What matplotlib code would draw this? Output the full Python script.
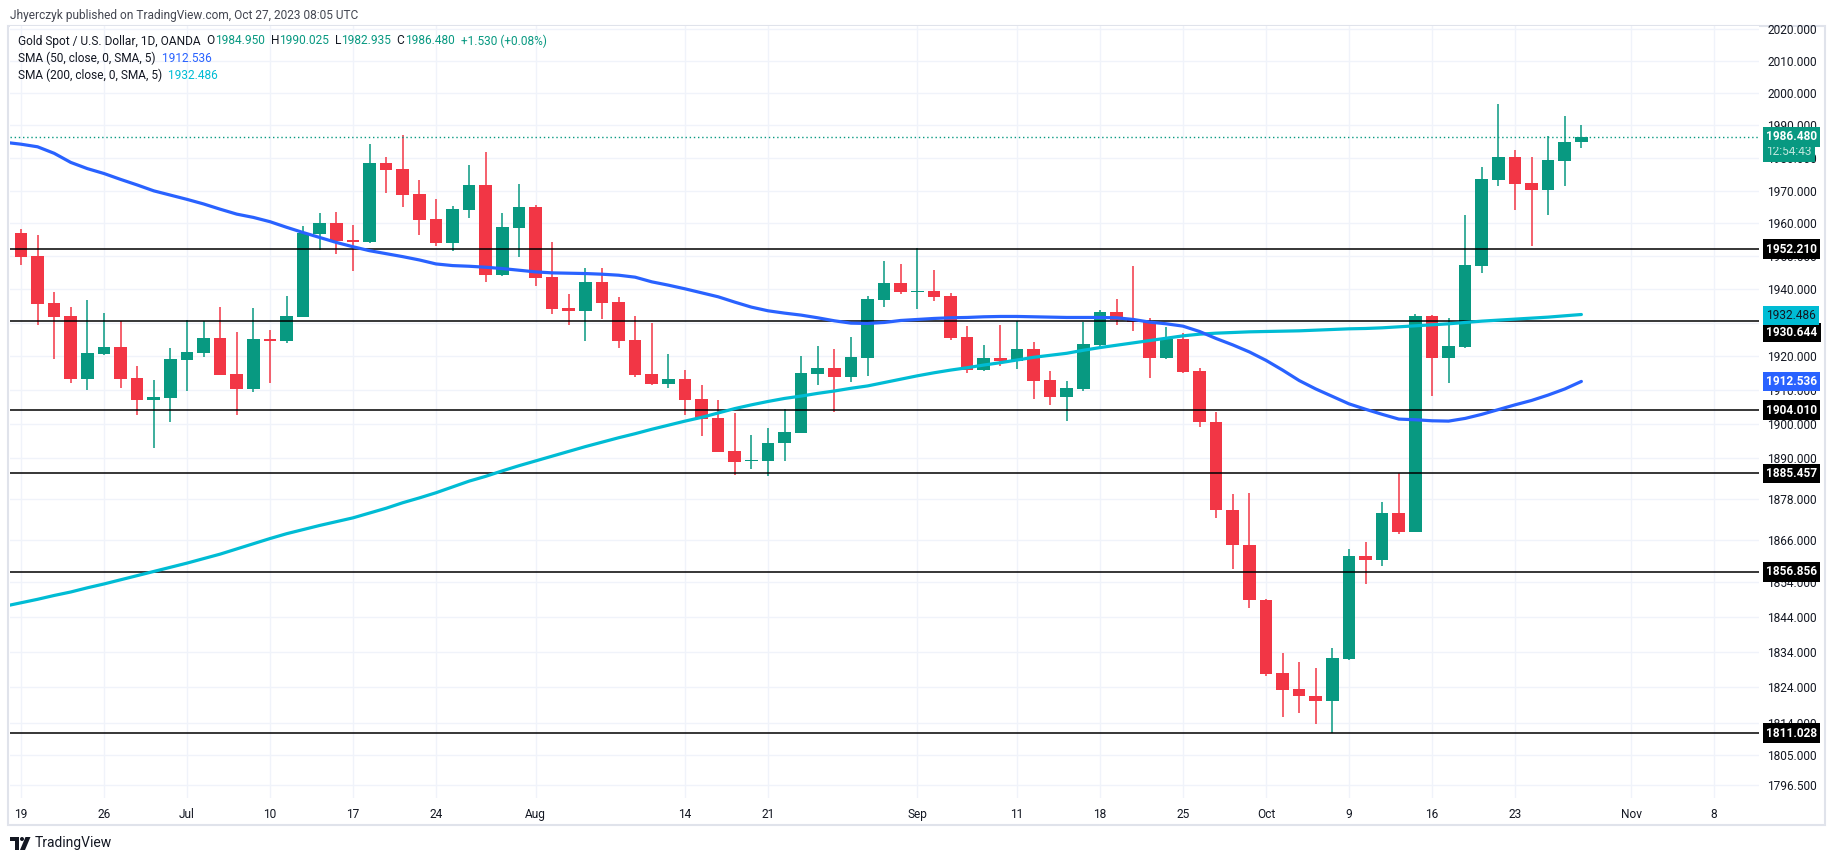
# gold_daily.py
# XAU/USD daily candles with SMA 50 / SMA 200 and support lines, TradingView style.

import matplotlib
matplotlib.use("Agg")
import matplotlib.pyplot as plt
import matplotlib.transforms as mtransforms
from matplotlib.patches import Rectangle, Polygon, Circle
from matplotlib.ticker import FixedLocator, NullLocator
import pandas as pd

plt.rcParams["font.family"] = ["Roboto", "DejaVu Sans"]

W, H = 1835, 860

# daily bars, Jun 19 .. Oct 27 2023
opens = [1957.0, 1950.1, 1935.9, 1932.0, 1913.3, 1920.7, 1922.7, 1913.5, 1907.1, 1907.7,
         1918.9, 1921.0, 1925.4, 1914.7, 1910.3, 1925.1, 1924.6, 1931.8, 1956.8, 1960.1,
         1954.9, 1954.3, 1978.3, 1976.6, 1968.9, 1961.4, 1954.1, 1964.1, 1971.7, 1944.4,
         1958.7, 1965.0, 1943.7, 1934.5, 1933.6, 1942.2, 1936.2, 1924.8, 1914.7, 1911.7,
         1913.4, 1907.3, 1901.7, 1892.0, 1889.0, 1889.2, 1894.4, 1897.4, 1914.7, 1916.5,
         1913.9, 1919.5, 1936.9, 1941.9, 1939.3, 1939.6, 1938.0, 1925.7, 1915.9, 1919.4,
         1918.7, 1922.2, 1913.0, 1908.0, 1910.3, 1923.3, 1933.2, 1931.2, 1930.3, 1919.5,
         1925.1, 1915.6, 1900.4, 1874.8, 1864.5, 1848.7, 1828.1, 1823.4, 1821.6, 1820.1,
         1831.9, 1861.5, 1860.2, 1873.9, 1868.5, 1932.0, 1919.4, 1922.8, 1947.2, 1973.3,
         1980.3, 1972.2, 1970.2, 1978.9, 1984.95]
highs = [1958.3, 1956.4, 1939.2, 1934.7, 1936.8, 1932.9, 1930.5, 1917.1, 1912.9, 1922.4,
         1930.8, 1930.5, 1934.7, 1927.2, 1934.4, 1927.8, 1938.0, 1959.2, 1963.1, 1963.4,
         1959.5, 1984.2, 1980.4, 1987.0, 1973.2, 1967.4, 1965.3, 1977.7, 1981.8, 1963.1,
         1971.9, 1965.6, 1954.3, 1938.7, 1946.6, 1946.4, 1937.6, 1931.9, 1929.9, 1920.6,
         1915.9, 1911.5, 1907.0, 1903.1, 1896.7, 1898.7, 1904.3, 1920.0, 1923.0, 1922.2,
         1925.7, 1937.9, 1948.6, 1947.7, 1952.4, 1945.9, 1938.8, 1929.0, 1923.3, 1929.3,
         1930.5, 1924.3, 1915.6, 1912.6, 1930.2, 1933.8, 1937.1, 1947.1, 1931.4, 1928.7,
         1926.9, 1916.6, 1903.5, 1879.4, 1879.8, 1849.0, 1833.8, 1831.0, 1829.5, 1835.2,
         1863.5, 1865.6, 1877.2, 1885.5, 1932.5, 1932.3, 1931.4, 1962.4, 1977.2, 1996.6,
         1982.4, 1980.3, 1986.7, 1992.9, 1990.025]
lows = [1947.4, 1929.3, 1919.2, 1912.0, 1909.9, 1920.3, 1910.6, 1902.6, 1892.9, 1900.6,
        1909.7, 1919.7, 1914.3, 1902.6, 1909.4, 1912.2, 1923.9, 1931.6, 1951.9, 1950.8,
        1945.6, 1954.0, 1969.3, 1965.0, 1956.6, 1953.2, 1951.7, 1961.7, 1942.3, 1944.2,
        1949.9, 1941.1, 1932.7, 1929.4, 1924.6, 1931.1, 1922.5, 1913.9, 1911.5, 1910.6,
        1902.5, 1896.4, 1891.6, 1885.0, 1886.7, 1884.8, 1889.2, 1897.3, 1911.5, 1903.6,
        1912.5, 1914.2, 1934.8, 1938.7, 1934.2, 1936.6, 1925.0, 1915.0, 1915.7, 1917.1,
        1916.2, 1907.4, 1905.5, 1900.8, 1909.6, 1922.7, 1929.3, 1927.5, 1913.6, 1919.3,
        1915.0, 1899.1, 1872.5, 1857.7, 1846.6, 1827.0, 1815.6, 1816.8, 1813.5, 1811.0,
        1831.8, 1853.3, 1858.7, 1867.8, 1868.3, 1908.1, 1912.2, 1922.6, 1944.9, 1971.4,
        1964.0, 1953.1, 1962.5, 1971.4, 1982.935]
closes = [1949.9, 1935.7, 1931.7, 1913.3, 1920.9, 1922.7, 1913.3, 1907.1, 1907.9, 1919.2,
          1921.2, 1925.4, 1914.5, 1910.3, 1925.1, 1924.6, 1932.0, 1957.1, 1960.1, 1954.6,
          1954.3, 1978.3, 1976.3, 1968.7, 1961.1, 1954.1, 1964.3, 1971.7, 1944.4, 1958.9,
          1965.0, 1943.5, 1934.2, 1933.6, 1942.2, 1935.9, 1924.6, 1914.4, 1911.7, 1913.4,
          1907.0, 1901.4, 1891.7, 1888.8, 1889.4, 1894.5, 1897.6, 1915.0, 1916.5, 1913.9,
          1919.7, 1937.1, 1941.9, 1939.3, 1939.6, 1937.8, 1925.4, 1915.9, 1919.4, 1918.7,
          1922.2, 1912.8, 1908.0, 1910.5, 1923.6, 1933.2, 1930.8, 1930.3, 1919.5, 1925.1,
          1915.4, 1900.4, 1874.8, 1864.5, 1848.7, 1827.8, 1823.1, 1821.4, 1820.1, 1832.3,
          1861.5, 1860.2, 1873.9, 1868.5, 1932.0, 1919.4, 1923.1, 1947.3, 1973.5, 1980.3,
          1972.1, 1970.2, 1979.3, 1984.95, 1986.48]

# moving averages, starting one bar earlier (Jun 16) so the lines reach the left edge
sma50 = [1984.8,
         1984.2, 1983.4, 1981.4, 1978.6, 1976.7, 1975.2, 1973.4, 1971.7, 1969.9, 1968.6,
         1967.3, 1965.9, 1964.3, 1962.8, 1961.8, 1960.5, 1958.8, 1957.2, 1955.7, 1954.2,
         1952.9, 1951.7, 1950.8, 1949.9, 1948.9, 1947.7, 1947.2, 1947.0, 1946.7, 1946.3,
         1945.8, 1945.3, 1945.0, 1944.9, 1944.8, 1944.6, 1944.3, 1943.7, 1942.3, 1941.3,
         1940.2, 1939.0, 1937.8, 1936.2, 1934.7, 1933.6, 1932.9, 1932.3, 1931.5, 1930.6,
         1929.9, 1929.8, 1930.1, 1930.7, 1931.0, 1931.3, 1931.5, 1931.6, 1931.8, 1931.9,
         1931.9, 1931.8, 1931.7, 1931.6, 1931.6, 1931.6, 1931.5, 1931.0, 1930.2, 1929.7,
         1929.0, 1927.4, 1925.3, 1923.4, 1921.3, 1918.8, 1915.9, 1912.8, 1910.3, 1908.1,
         1905.9, 1904.3, 1902.8, 1901.4, 1901.2, 1900.9, 1900.8, 1901.6, 1902.8, 1904.2,
         1905.6, 1906.9, 1908.5, 1910.3, 1912.536]
sma200 = [1847.0,
          1848.0, 1849.0, 1850.1, 1851.1, 1852.3, 1853.4, 1854.6, 1855.8, 1857.0, 1858.2,
          1859.4, 1860.7, 1862.0, 1863.5, 1865.0, 1866.5, 1867.9, 1869.1, 1870.3, 1871.4,
          1872.5, 1873.9, 1875.3, 1876.9, 1878.3, 1879.8, 1881.5, 1883.2, 1884.6, 1886.2,
          1887.7, 1889.1, 1890.5, 1891.9, 1893.3, 1894.6, 1895.9, 1897.1, 1898.4, 1899.6,
          1900.8, 1901.9, 1903.2, 1904.5, 1905.6, 1906.6, 1907.5, 1908.2, 1909.0, 1909.7,
          1910.5, 1911.2, 1912.2, 1913.2, 1914.2, 1915.1, 1915.9, 1916.6, 1917.4, 1918.1,
          1918.9, 1919.7, 1920.3, 1920.9, 1921.8, 1922.6, 1923.3, 1924.0, 1924.7, 1925.4,
          1926.1, 1926.6, 1926.9, 1927.1, 1927.3, 1927.4, 1927.5, 1927.6, 1927.8, 1928.0,
          1928.2, 1928.3, 1928.5, 1928.8, 1929.1, 1929.4, 1929.7, 1930.1, 1930.5, 1930.8,
          1931.1, 1931.4, 1931.7, 1932.1, 1932.486]

levels = [1952.210, 1930.644, 1904.010, 1885.457, 1856.856, 1811.028]

price_ticks = [2020, 2010, 2000, 1990, 1980, 1970, 1960, 1950, 1940, 1930, 1920, 1910,
               1900, 1890, 1878, 1866, 1854, 1844, 1834, 1824, 1814, 1805, 1796.5]

tick_days = ["2023-06-19", "2023-06-26", "2023-07-03", "2023-07-10", "2023-07-17",
             "2023-07-24", "2023-08-01", "2023-08-14", "2023-08-21", "2023-09-01",
             "2023-09-11", "2023-09-18", "2023-09-25", "2023-10-02", "2023-10-09",
             "2023-10-16", "2023-10-23", "2023-11-01", "2023-11-08"]
tick_labels = ["19", "26", "Jul", "10", "17", "24", "Aug", "14", "21", "Sep",
               "11", "18", "25", "Oct", "9", "16", "23", "Nov", "8"]

GREEN = "#089981"
RED = "#f23645"
BLUE = "#2962ff"
CYAN = "#00bcd4"
TEXT = "#131722"
GRID = "#f0f3fa"


def draw_pieces(fig, x_px, y_px, pieces, size=8.6):
    """Write coloured text pieces one after another on a line."""
    renderer = fig.canvas.get_renderer()
    x = x_px
    for text, color in pieces:
        t = fig.text(x / W, 1 - y_px / H, text, color=color, fontsize=size,
                     ha="left", va="center")
        x += t.get_window_extent(renderer=renderer).width


def main():
    fig = plt.figure(figsize=(W / 100, H / 100), dpi=100)
    fig.patch.set_facecolor("white")

    # background layer in pixel coordinates: frame and logo
    deco = fig.add_axes([0, 0, 1, 1], zorder=-1)
    deco.set_xlim(0, W)
    deco.set_ylim(H, 0)
    deco.axis("off")
    deco.add_patch(Rectangle((8, 26), 1817, 799, fill=False, ec="#e0e3eb", lw=1.5))

    # plot area
    left, right, top, bottom = 10, 1759, 26, 798
    ax = fig.add_axes([left / W, 1 - bottom / H, (right - left) / W, (bottom - top) / H])
    ax.set_facecolor("white")
    for s in ax.spines.values():
        s.set_visible(False)

    days = pd.bdate_range("2023-06-19", periods=len(closes))
    calendar = pd.bdate_range("2023-06-19", "2023-11-30")
    x = list(range(len(days)))

    ax.set_yscale("log")
    ax.set_ylim(1792.9, 2020.9)
    ax.set_xlim(-0.66, 104.7)

    # grid
    tick_pos = [calendar.get_loc(pd.Timestamp(d)) for d in tick_days]
    for p in price_ticks:
        ax.axhline(p, color=GRID, lw=1.0, zorder=0)
    for t in tick_pos:
        ax.axvline(t, color=GRID, lw=1.0, zorder=0)

    # candles
    for i in x:
        o, h, l, c = opens[i], highs[i], lows[i], closes[i]
        col = GREEN if c >= o else RED
        ax.vlines(i, l, h, color=col, lw=1.1, zorder=3)
        ax.bar(i, max(abs(c - o), 0.35), bottom=min(o, c), width=0.76,
               color=col, zorder=3)

    # support / resistance lines
    for lv in levels:
        ax.axhline(lv, color="black", lw=1.1, zorder=4)

    # moving averages
    xs = list(range(-1, len(days)))
    ax.plot(xs, sma200, color=CYAN, lw=2.3, zorder=5, solid_capstyle="round")
    ax.plot(xs, sma50, color=BLUE, lw=2.3, zorder=5, solid_capstyle="round")

    # last price line
    ax.axhline(closes[-1], color=GREEN, lw=1.0, ls=(0, (1, 2)), zorder=4)

    # axes ticks
    ax.yaxis.tick_right()
    ax.yaxis.set_major_locator(FixedLocator(price_ticks))
    ax.yaxis.set_minor_locator(NullLocator())
    ax.set_yticklabels([f"{p:.3f}" for p in price_ticks])
    ax.tick_params(axis="y", which="both", length=0, pad=6, labelsize=8.6,
                   labelcolor=TEXT)
    ax.set_xticks(tick_pos)
    ax.set_xticklabels(tick_labels)
    ax.tick_params(axis="x", length=0, pad=7, labelsize=8.6, labelcolor=TEXT)

    # price tags on the scale
    blend = mtransforms.blended_transform_factory(ax.transAxes, ax.transData)

    def tag(value, text, fc, dy=0, color="white", weight="bold"):
        ax.annotate(text, xy=(1, value), xycoords=blend, xytext=(7, dy),
                    textcoords="offset pixels", ha="left", va="center",
                    fontsize=8.6, color=color, fontweight=weight,
                    bbox=dict(boxstyle="square,pad=0.28", fc=fc, ec="none"),
                    annotation_clip=False, zorder=8)

    for lv in levels:
        dy = -12 if lv == 1930.644 else 0
        tag(lv, f"{lv:.3f}", "black", dy=dy)
    tag(sma200[-1], f"{sma200[-1]:.3f}", CYAN, dy=-1, color=TEXT, weight="normal")
    tag(sma50[-1], f"{sma50[-1]:.3f}", BLUE)
    tag(closes[-1], "12:54:43", GREEN, dy=-15, color="#bfe6dd", weight="normal")
    tag(closes[-1], f"{closes[-1]:.3f}", GREEN)

    # header and legend
    fig.text(10 / W, 1 - 15 / H, "Jhyerczyk published on TradingView.com, Oct 27, 2023 08:05 UTC",
             fontsize=8.6, color="#434651", ha="left", va="center")
    chg = closes[-1] - opens[-1]
    draw_pieces(fig, 18, 41, [
        ("Gold Spot / U.S. Dollar, 1D, OANDA", TEXT),
        ("  O", TEXT), (f"{opens[-1]:.3f}", GREEN),
        ("  H", TEXT), (f"{highs[-1]:.3f}", GREEN),
        ("  L", TEXT), (f"{lows[-1]:.3f}", GREEN),
        ("  C", TEXT), (f"{closes[-1]:.3f}", GREEN),
        (f"  +{chg:.3f} (+{chg / opens[-1] * 100:.2f}%)", GREEN),
    ])
    draw_pieces(fig, 18, 58.5, [("SMA (50, close, 0, SMA, 5)", TEXT),
                                (f"  {sma50[-1]:.3f}", BLUE)])
    draw_pieces(fig, 18, 75.5, [("SMA (200, close, 0, SMA, 5)", TEXT),
                                (f"  {sma200[-1]:.3f}", CYAN)])

    # TradingView logo
    deco.add_patch(Polygon([(10, 837), (19, 837), (19, 850), (15, 850), (15, 841), (10, 841)],
                           closed=True, fc=TEXT, ec="none"))
    deco.add_patch(Circle((22, 839), 2.0, fc=TEXT, ec="none"))
    deco.add_patch(Polygon([(25.5, 837), (30.5, 837), (25, 850), (20, 850)],
                           closed=True, fc=TEXT, ec="none"))
    deco.text(35, 843.5, "TradingView", fontsize=10, color=TEXT, ha="left", va="center")

    fig.savefig("out.png", dpi=100, facecolor="white")


if __name__ == "__main__":
    main()
